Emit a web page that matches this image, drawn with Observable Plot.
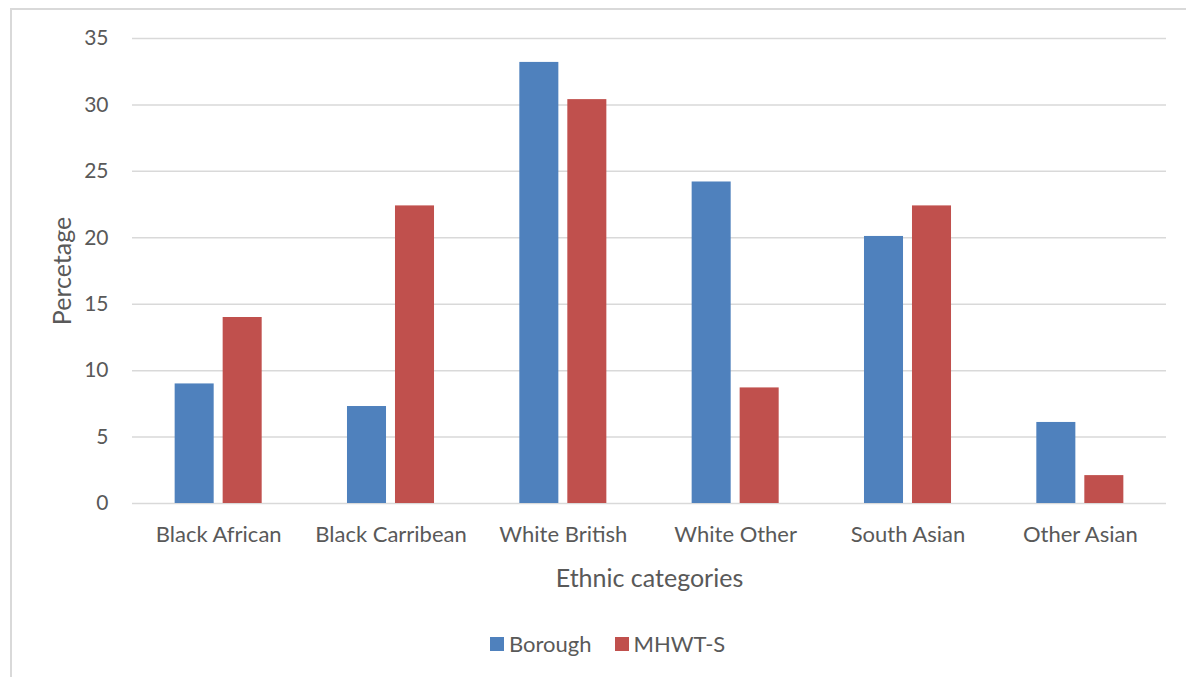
<!DOCTYPE html>
<html><head><meta charset="utf-8">
<script src="https://cdn.jsdelivr.net/npm/d3@7"></script>
<script src="https://cdn.jsdelivr.net/npm/@observablehq/plot@0.6"></script>
<style>
body{margin:0;background:#fff;font-family:Lato,sans-serif;width:1186px;height:677px;overflow:hidden;position:relative;}
#frame{position:absolute;left:10px;top:8px;right:0;bottom:0;border-top:2px solid #d9d9d9;border-left:2px solid #d9d9d9;}
#chart{position:absolute;left:0;top:0;}
#legend{position:absolute;top:630px;left:490px;display:flex;align-items:center;font-size:22px;color:#595959;font-family:Lato,sans-serif;}
.item{display:flex;align-items:center;margin-right:23px;}
.sw{width:14px;height:14px;display:inline-block;margin-right:5px;}
</style></head><body>
<div id="frame"></div><div id="chart"></div><div id="legend"></div>
<script>
const categories = ["Black African","Black Carribean","White British","White Other","South Asian","Other Asian"];
const series = ["Borough","MHWT-S"];
const borough = [9.0, 7.3, 33.2, 24.2, 20.1, 6.1];
const mhwt = [14.0, 22.4, 30.4, 8.7, 22.4, 2.1];
const colors = ["#4F81BD","#C0504D"];
const yTicks = [0,5,10,15,20,25,30,35];
const xTitle = "Ethnic categories";
const yTitle = "Percetage";

const boroughData = categories.map((c,i)=>({category:c, series:series[0], value:borough[i]}));
const mhwtData = categories.map((c,i)=>({category:c, series:series[1], value:mhwt[i]}));

const chart = Plot.plot({
  width:1186, height:600,
  marginTop:38, marginBottom:97, marginLeft:132, marginRight:20,
  style:{fontFamily:"Lato, sans-serif", fontSize:"20px", color:"#595959", background:"transparent", overflow:"visible"},
  x:{domain:categories, paddingInner:0.495, paddingOuter:0.2475, round:false},
  y:{domain:[0,35]},
  color:{domain:series, range:colors},
  marks:[
    Plot.ruleY(yTicks, {stroke:"#d9d9d9", strokeWidth:1.5}),
    Plot.barY(boroughData, {x:"category", y:"value", fill:"series", insetRight:48}),
    Plot.barY(mhwtData, {x:"category", y:"value", fill:"series", insetLeft:48}),
    Plot.axisX({tickSize:0, tickPadding:23, label:null, fontSize:22, fill:"#595959"}),
    Plot.axisY(yTicks, {tickSize:0, tickPadding:24, label:null, fontSize:21, fill:"#595959"}),
    Plot.text([xTitle], {frameAnchor:"bottom", lineAnchor:"middle", textAnchor:"middle", dy:75, fontSize:25, fill:"#595959"}),
    Plot.text([yTitle], {frameAnchor:"left", lineAnchor:"middle", textAnchor:"middle", dx:-70, rotate:-90, fontSize:25, fill:"#595959"})
  ]
});
document.getElementById("chart").append(chart);

const legend = document.getElementById("legend");
series.forEach((s,i)=>{
  const it = document.createElement("div"); it.className="item";
  const sw = document.createElement("span"); sw.className="sw"; sw.style.background=colors[i];
  const t = document.createElement("span"); t.textContent=s;
  it.append(sw,t); legend.append(it);
});
</script>
</body></html>
